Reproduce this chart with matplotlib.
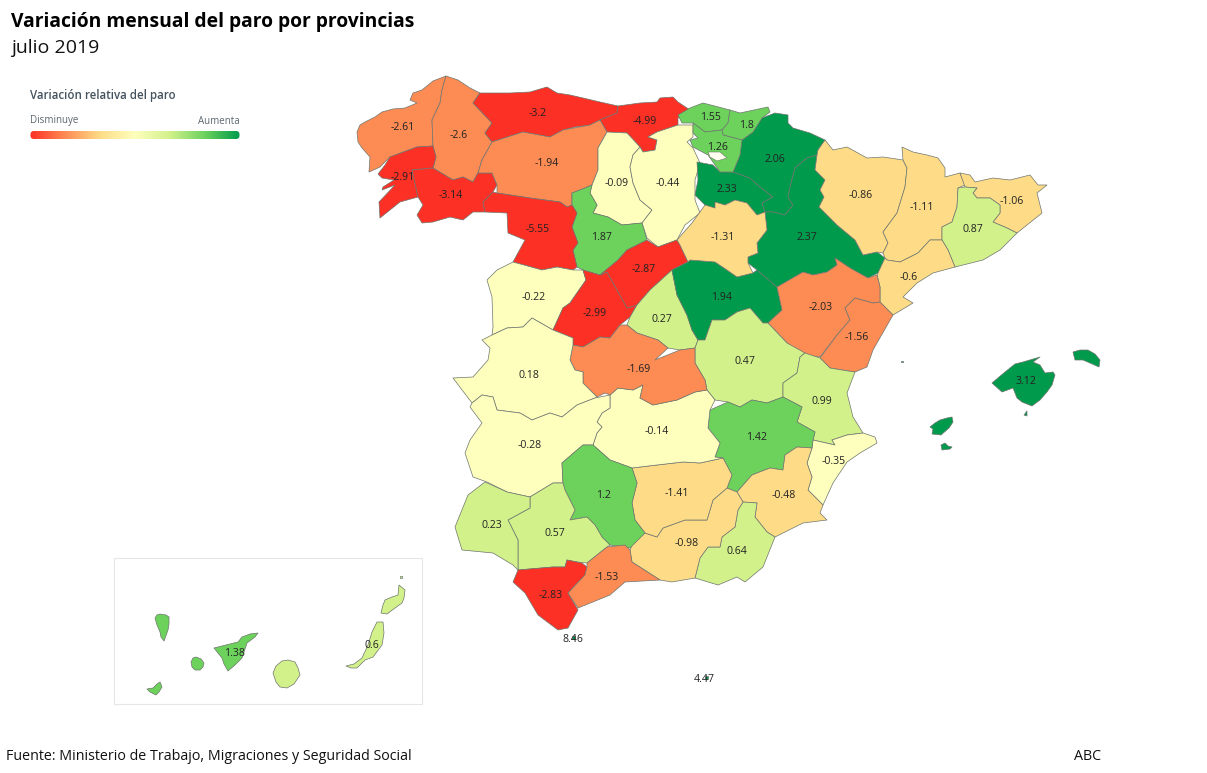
# Variacion mensual del paro por provincias, julio 2019

import numpy as np
import matplotlib
matplotlib.use("Agg")
import matplotlib.pyplot as plt
from matplotlib.collections import PolyCollection
from matplotlib.colors import BoundaryNorm, LinearSegmentedColormap, ListedColormap
from matplotlib.patches import FancyBboxPatch, Rectangle

plt.rcParams['font.family'] = ['Open Sans', 'DejaVu Sans']

provinces = ['A Coruña', 'Lugo', 'Pontevedra', 'Ourense', 'Asturias', 'Cantabria', 'León',
             'Palencia', 'Burgos', 'Valladolid', 'Zamora', 'Salamanca', 'Ávila', 'Segovia',
             'Madrid', 'Guadalajara', 'La Rioja', 'Navarra', 'Zaragoza', 'Soria', 'Bizkaia',
             'Gipuzkoa', 'Álava', 'Huesca', 'Lleida', 'Girona', 'Barcelona', 'Tarragona',
             'Teruel', 'Castellón', 'Cuenca', 'Valencia', 'Alicante', 'Albacete', 'Murcia',
             'Almería', 'Granada', 'Jaén', 'Ciudad Real', 'Toledo', 'Cáceres', 'Badajoz',
             'Córdoba', 'Sevilla', 'Huelva', 'Cádiz', 'Málaga', 'Baleares', 'Tenerife',
             'Las Palmas', 'Ceuta', 'Melilla']

values = [-2.61, -2.6, -2.91, -3.14, -3.2, -4.99, -1.94,
          -0.09, -0.44, 1.87, -5.55, -0.22, -2.99, -2.87,
          0.27, 1.94, 2.33, 2.06, 2.37, -1.31, 1.55,
          1.8, 1.26, -0.86, -1.11, -1.06, 0.87, -0.6,
          -2.03, -1.56, 0.47, 0.99, -0.35, 1.42, -0.48,
          0.64, -0.98, -1.41, -0.14, -1.69, 0.18, -0.28,
          1.2, 0.57, 0.23, -2.83, -1.53, 3.12, 1.38,
          0.6, 8.46, 4.47]

label_xy = [(403, 126), (459, 134), (403, 177), (451, 195), (538, 113), (645, 120), (547, 163),
            (617, 182), (668, 182), (601, 236), (538, 229), (534, 297), (595, 313), (644, 269),
            (662, 318), (722, 296), (727, 189), (775, 159), (807, 237), (723, 237), (710, 117),
            (746, 124), (717, 147), (861, 194), (922, 206), (1012, 200), (973, 229), (909, 276),
            (821, 307), (857, 337), (745, 361), (822, 400), (834, 461), (757, 437), (784, 494),
            (737, 550), (687, 542), (677, 493), (657, 430), (639, 368), (529, 374), (530, 445),
            (603, 495), (555, 533), (492, 524), (551, 594), (607, 576), (1026, 381), (234, 652),
            (372, 645), (573, 639), (704, 678)]

outlines = {
    'A Coruña': [[(357, 132), (360, 125), (365, 122), (375, 117), (382, 112), (393, 109), (405, 108), (417, 103),
                  (410, 100), (413, 93), (422, 90), (433, 81), (446, 76),
                  (442, 90), (440, 103), (432, 120), (433, 146), (417, 147), (390, 157), (380, 167), (369, 172),
                  (370, 157), (362, 148), (358, 142)]],
    'Lugo': [[(446, 76), (458, 80), (470, 88), (480, 93), (473, 103), (492, 123), (485, 133), (492, 142), (482, 160),
              (478, 173), (473, 182), (463, 177), (453, 180), (433, 168), (436, 157), (433, 146), (432, 120),
              (440, 103), (442, 90)]],
    'Pontevedra': [[(433, 146), (436, 157), (433, 168), (412, 170), (418, 197), (400, 202), (380, 218), (379, 202),
                    (395, 185), (382, 190), (383, 187), (394, 180), (382, 178), (378, 174), (385, 165), (390, 157),
                    (417, 147)]],
    'Ourense': [[(412, 170), (433, 168), (453, 180), (463, 177), (473, 182), (478, 173), (492, 173), (497, 185),
                 (493, 192), (483, 202), (485, 212), (473, 212), (463, 220), (450, 217), (433, 222), (422, 223),
                 (417, 215), (423, 205), (418, 197)]],
    'Asturias': [[(480, 93), (510, 93), (530, 92), (547, 87), (557, 93), (570, 95), (583, 98), (600, 102), (618, 106),
                  (617, 113), (600, 120), (590, 125), (575, 127), (563, 130), (550, 137), (523, 132), (492, 142),
                  (485, 133), (492, 123), (473, 103)]],
    'Cantabria': [[(618, 106), (640, 103), (657, 102), (660, 98), (673, 97), (678, 102), (693, 112), (678, 118),
                   (678, 125), (657, 132), (648, 137), (657, 140), (655, 150), (643, 152), (640, 147), (627, 133),
                   (607, 132), (600, 120), (617, 113)]],
    'León': [[(492, 142), (482, 160), (478, 173), (492, 173), (497, 185), (497, 193), (530, 198), (560, 202),
              (567, 207), (572, 205), (572, 193), (585, 188), (592, 185), (598, 170), (598, 148), (607, 132),
              (600, 120), (590, 125), (563, 130), (550, 137), (523, 132)]],
    'Palencia': [[(607, 132), (627, 133), (640, 147), (633, 155), (630, 167), (633, 183), (640, 200), (652, 210),
                  (642, 223), (622, 225), (608, 217), (593, 213), (597, 205), (590, 193), (592, 185), (598, 170),
                  (598, 148)]],
    'Burgos': [[(640, 147), (643, 152), (655, 150), (657, 140), (648, 137), (657, 132), (678, 125), (693, 125),
                (693, 137), (687, 142), (693, 148), (700, 163), (695, 180), (695, 200), (700, 213), (685, 225),
                (677, 240), (658, 247), (647, 238), (642, 223), (652, 210), (640, 200), (633, 183), (630, 167),
                (633, 155)]],
    'Valladolid': [[(572, 193), (585, 188), (592, 185), (590, 193), (597, 205), (593, 213), (608, 217), (622, 225),
                    (642, 223), (647, 240), (627, 250), (618, 260), (600, 275), (583, 270), (577, 267), (573, 250),
                    (578, 243), (572, 227), (577, 213), (572, 205)]],
    'Zamora': [[(497, 193), (530, 198), (560, 202), (567, 207), (572, 205), (577, 213), (572, 227), (578, 243),
                (573, 250), (577, 267), (573, 270), (557, 267), (542, 270), (513, 262), (525, 240), (508, 233),
                (507, 213), (485, 212), (483, 202), (493, 192)]],
    'Salamanca': [[(513, 262), (542, 270), (557, 267), (573, 270), (583, 270), (586, 280), (570, 303), (563, 308),
                   (553, 330), (532, 318), (523, 327), (507, 328), (492, 335), (493, 327), (492, 297), (487, 280),
                   (497, 270)]],
    'Ávila': [[(583, 270), (600, 275), (607, 272), (627, 308), (637, 305), (630, 317), (620, 325), (610, 338),
               (600, 337), (583, 347), (573, 345), (573, 338), (553, 330), (563, 308), (570, 303), (586, 280)]],
    'Segovia': [[(600, 275), (618, 260), (627, 250), (647, 240), (658, 247), (677, 240), (680, 245), (688, 262),
                 (672, 270), (650, 290), (637, 305), (627, 308), (607, 272)]],
    'Madrid': [[(637, 305), (650, 290), (672, 270), (677, 295), (687, 315), (692, 330), (698, 340), (695, 348),
                (680, 350), (668, 348), (658, 340), (637, 333), (627, 325), (630, 317)]],
    'Guadalajara': [[(672, 270), (688, 262), (690, 260), (715, 262), (727, 270), (737, 277), (753, 273), (757, 270),
                     (777, 287), (782, 310), (768, 323), (763, 323), (750, 308), (737, 312), (725, 320), (712, 320),
                     (705, 340), (698, 340), (692, 330), (687, 315), (677, 295)]],
    'La Rioja': [[(697, 162), (713, 165), (720, 172), (733, 172), (750, 178), (760, 187), (773, 197), (762, 203),
                  (765, 212), (757, 215), (747, 203), (735, 200), (725, 205), (715, 202), (715, 208), (705, 205),
                  (695, 195), (698, 180)]],
    'Navarra': [[(733, 172), (738, 160), (740, 155), (742, 140), (753, 132), (762, 118), (775, 113), (788, 115),
                 (788, 123), (793, 128), (810, 133), (825, 140), (818, 150), (817, 155), (807, 158), (795, 168),
                 (790, 187), (788, 197), (793, 205), (785, 215), (773, 212), (765, 212), (762, 203), (773, 197),
                 (760, 187), (750, 178)]],
    'Zaragoza': [[(817, 155), (815, 170), (825, 180), (820, 190), (824, 197), (819, 207), (837, 225), (855, 240),
                  (863, 255), (877, 252), (885, 258), (878, 273), (868, 278), (850, 268), (835, 258), (837, 265),
                  (827, 272), (813, 275), (803, 272), (777, 287), (757, 270), (748, 263), (748, 257), (758, 253),
                  (757, 243), (767, 230), (765, 212), (773, 212), (785, 215), (793, 205), (788, 197), (790, 187),
                  (795, 168), (807, 158)]],
    'Soria': [[(677, 240), (692, 223), (705, 205), (715, 208), (715, 202), (725, 205), (735, 200), (747, 203),
               (757, 215), (765, 212), (767, 230), (757, 243), (758, 253), (748, 257), (748, 263), (753, 273),
               (737, 277), (727, 270), (715, 262), (690, 260), (688, 262), (680, 245)]],
    'Bizkaia': [[(690, 108), (703, 103), (730, 110), (728, 123), (722, 130), (705, 132), (693, 123), (682, 123),
                 (678, 115)]],
    'Gipuzkoa': [[(730, 110), (740, 113), (768, 107), (770, 112), (762, 118), (753, 132), (742, 140), (723, 135),
                  (722, 130), (728, 123)]],
    'Álava': [[(693, 123), (705, 132), (722, 130), (723, 135), (742, 140), (740, 155), (738, 160), (733, 172),
               (720, 172), (713, 162), (708, 155), (693, 147), (690, 140), (698, 138), (693, 133)]],
    'Huesca': [[(825, 140), (833, 150), (847, 147), (867, 158), (883, 157), (903, 160), (907, 168), (905, 187),
                (897, 213), (883, 232), (888, 243), (883, 253), (877, 252), (863, 255), (855, 240), (837, 225),
                (819, 207), (824, 197), (820, 190), (825, 180), (815, 170), (817, 155), (818, 150)]],
    'Lleida': [[(903, 160), (902, 147), (913, 152), (927, 155), (938, 158), (945, 168), (945, 177), (960, 173),
                (965, 185), (958, 188), (957, 207), (952, 222), (942, 227), (942, 240), (930, 240), (918, 253),
                (900, 262), (887, 260), (885, 258), (883, 253), (888, 243), (883, 232), (897, 213), (905, 187),
                (907, 168)]],
    'Girona': [[(960, 173), (970, 175), (975, 182), (993, 178), (1010, 180), (1030, 175), (1038, 185), (1047, 185),
                (1037, 193), (1042, 213), (1017, 233), (1007, 228), (993, 222), (1000, 213), (1000, 205), (990, 198),
                (977, 198), (973, 193), (977, 188), (965, 187)]],
    'Barcelona': [[(965, 187), (977, 188), (973, 193), (977, 198), (990, 198), (1000, 205), (1000, 213), (993, 222),
                   (1007, 228), (1017, 233), (1000, 250), (983, 260), (955, 267), (948, 250), (942, 240), (942, 227),
                   (952, 222), (957, 207), (958, 188)]],
    'Tarragona': [[(887, 260), (900, 262), (918, 253), (930, 240), (942, 240), (948, 250), (955, 267), (933, 273),
                   (917, 283), (903, 297), (913, 303), (893, 315), (880, 302), (880, 287), (877, 275), (878, 273),
                   (885, 258)]],
    'Teruel': [[(777, 287), (803, 272), (813, 275), (827, 272), (837, 265), (835, 258), (850, 268), (868, 278),
                (877, 275), (880, 287), (880, 302), (873, 303), (855, 298), (845, 308), (850, 320), (837, 335),
                (820, 357), (803, 355), (787, 343), (768, 323), (782, 310)]],
    'Castellón': [[(855, 298), (873, 303), (880, 302), (893, 315), (873, 350), (867, 367), (855, 372), (842, 370),
                   (830, 368), (820, 358), (837, 335), (850, 320), (845, 308)]],
    'Cuenca': [[(725, 320), (737, 312), (750, 308), (763, 323), (768, 323), (787, 343), (805, 353), (800, 357),
                (797, 373), (783, 383), (783, 397), (767, 403), (752, 400), (740, 407), (728, 402), (715, 400),
                (707, 390), (705, 380), (695, 363), (695, 348), (698, 340), (705, 340), (712, 320)]],
    'Valencia': [[(800, 357), (805, 353), (820, 358), (830, 368), (842, 370), (855, 372), (847, 393), (853, 417),
                  (863, 433), (847, 435), (832, 440), (835, 445), (813, 440), (815, 432), (797, 422), (802, 407),
                  (783, 397), (783, 383), (797, 373)]],
    'Alicante': [[(813, 440), (835, 445), (832, 440), (847, 435), (863, 433), (875, 437), (877, 443), (860, 453),
                  (847, 462), (833, 483), (823, 505), (808, 490), (812, 477), (807, 463), (812, 448)]],
    'Albacete': [[(710, 410), (728, 402), (740, 407), (752, 400), (767, 403), (783, 397), (802, 407), (797, 422),
                  (815, 432), (813, 440), (812, 448), (797, 447), (785, 455), (783, 470), (770, 468), (752, 475),
                  (737, 492), (727, 488), (732, 475), (723, 458), (715, 457), (720, 443), (708, 428)]],
    'Murcia': [[(737, 492), (752, 475), (770, 468), (783, 470), (785, 455), (797, 447), (812, 448), (807, 463),
                (812, 477), (808, 490), (823, 505), (820, 513), (827, 520), (803, 523), (775, 537), (767, 532),
                (755, 517), (757, 503), (743, 502)]],
    'Almería': [[(743, 502), (757, 503), (755, 517), (767, 532), (775, 537), (763, 567), (745, 582), (737, 577),
                 (718, 585), (695, 578), (700, 558), (708, 547), (720, 547), (722, 537), (735, 527), (738, 510)]],
    'Granada': [[(727, 488), (737, 492), (743, 502), (738, 510), (735, 527), (722, 537), (720, 547), (708, 547),
                 (700, 558), (695, 578), (672, 582), (660, 580), (632, 562), (630, 550), (635, 538), (645, 533),
                 (657, 537), (663, 528), (685, 520), (707, 520), (713, 500)]],
    'Jaén': [[(632, 468), (657, 465), (683, 462), (700, 463), (723, 458), (732, 475), (727, 488), (713, 500),
              (707, 520), (685, 520), (663, 528), (657, 537), (645, 533), (635, 520), (632, 503), (637, 483)]],
    'Ciudad Real': [[(610, 395), (618, 388), (633, 390), (643, 385), (640, 398), (653, 405), (677, 400), (695, 392),
                     (707, 390), (715, 400), (710, 410), (708, 428), (720, 443), (715, 457), (723, 458), (700, 463),
                     (683, 462), (657, 465), (632, 468), (610, 460), (593, 445), (597, 433), (602, 427), (597, 422),
                     (602, 413), (610, 408)]],
    'Toledo': [[(573, 345), (583, 347), (600, 337), (610, 338), (620, 325), (627, 325), (637, 333), (658, 340),
                (668, 348), (655, 360), (660, 358), (680, 350), (695, 348), (695, 363), (705, 380), (707, 390),
                (695, 392), (677, 400), (653, 405), (640, 398), (643, 385), (633, 390), (618, 388), (610, 395),
                (605, 393), (597, 397), (583, 383), (583, 372), (575, 370), (570, 360)]],
    'Cáceres': [[(482, 340), (492, 335), (507, 328), (523, 327), (532, 318), (553, 330), (573, 338), (573, 345),
                 (570, 360), (575, 370), (583, 372), (583, 383), (597, 397), (595, 398), (577, 405), (562, 417),
                 (550, 413), (532, 420), (520, 413), (497, 410), (493, 397), (482, 395), (472, 403), (453, 378),
                 (473, 377), (488, 360), (490, 348)]],
    'Badajoz': [[(472, 403), (482, 395), (493, 397), (497, 410), (520, 413), (532, 420), (550, 413), (562, 417),
                 (577, 405), (595, 398), (610, 395), (610, 408), (602, 413), (597, 422), (602, 427), (597, 433),
                 (593, 445), (583, 445), (562, 463), (563, 483), (553, 483), (530, 497), (507, 492), (487, 482),
                 (473, 477), (465, 453), (470, 440), (482, 423), (470, 407)]],
    'Córdoba': [[(593, 445), (610, 460), (632, 468), (637, 483), (632, 503), (635, 520), (645, 533), (630, 548),
                 (610, 545), (602, 537), (595, 525), (587, 517), (570, 520), (575, 510), (565, 490), (563, 483),
                 (562, 463), (583, 445)]],
    'Sevilla': [[(530, 497), (553, 483), (563, 483), (565, 490), (575, 510), (570, 520), (587, 517), (595, 525),
                 (602, 537), (610, 545), (607, 547), (587, 563), (577, 562), (567, 560), (565, 567), (553, 567),
                 (518, 570), (518, 540), (508, 520), (530, 508)]],
    'Huelva': [[(485, 482), (507, 492), (530, 497), (530, 508), (508, 520), (518, 540), (518, 570), (513, 565),
                (493, 553), (462, 550), (455, 527), (468, 495)]],
    'Cádiz': [[(518, 570), (553, 567), (565, 567), (567, 560), (577, 562), (582, 563), (587, 567), (585, 575),
               (568, 593), (578, 610), (568, 628), (558, 630), (538, 615), (525, 593), (513, 582)]],
    'Málaga': [[(607, 547), (625, 545), (630, 550), (632, 562), (660, 580), (625, 582), (610, 595), (578, 608),
                (568, 593), (585, 575), (587, 567), (587, 563)]],
    'Baleares': [[(992, 383), (1005, 372), (1015, 364), (1023, 362), (1040, 357), (1033, 362), (1040, 365), (1045, 373),
                  (1053, 372), (1055, 375), (1052, 385), (1047, 392), (1040, 400), (1032, 406), (1022, 402), (1017, 398),
                  (1013, 388), (1002, 392)],
                 [(1024, 415), (1027, 411), (1027, 416)],
                 [(1073, 352), (1080, 350), (1088, 350), (1095, 354), (1100, 360), (1099, 367), (1090, 363), (1083, 360),
                  (1075, 360)],
                 [(930, 427), (935, 423), (940, 420), (947, 418), (952, 417), (953, 422), (949, 428), (941, 435),
                  (932, 434), (933, 429)],
                 [(941, 445), (945, 443), (948, 446), (952, 447), (950, 449), (942, 450)],
                 [(901, 361), (903, 361), (903, 362), (901, 362)]],
    'Tenerife': [[(214, 648), (230, 644), (238, 642), (242, 637), (250, 634), (258, 633), (255, 637), (247, 643), (242, 658),
                  (235, 665), (228, 671), (224, 664), (222, 658)],
                 [(155, 618), (157, 615), (160, 614), (166, 615), (169, 617), (169, 624), (168, 630), (164, 641), (161, 637),
                  (160, 632), (157, 625)],
                 [(191, 662), (193, 658), (196, 657), (201, 659), (204, 663), (203, 667), (200, 670), (195, 670),
                  (192, 667)],
                 [(147, 689), (153, 688), (157, 684), (160, 682), (162, 687), (159, 692), (156, 695), (150, 692)]],
    'Las Palmas': [[(273, 673), (276, 666), (282, 661), (288, 660), (295, 662), (298, 668), (300, 675), (294, 684), (287, 688),
                    (280, 687), (276, 682)],
                   [(346, 666), (354, 664), (362, 658), (368, 645), (372, 632), (377, 622), (383, 622), (384, 633),
                    (382, 645), (373, 657), (365, 660), (357, 668), (351, 668)],
                   [(381, 613), (383, 605), (385, 600), (392, 597), (398, 595), (399, 585), (405, 590), (404, 598),
                    (402, 603), (395, 608), (387, 614)],
                   [(400, 576), (402, 576), (402, 578), (400, 578)]],
    'Ceuta': [[(572, 636), (575, 636), (575, 639), (572, 639)]],
    'Melilla': [[(705, 676), (708, 676), (708, 679), (705, 679)]],
}

# treviño, the enclave inside Álava
trevino = [(708, 152), (720, 152), (727, 158), (717, 161), (710, 157)]

# seven classes, as in the map
class_edges = [-6, -2.7, -1.5, -0.46, 0.2, 1.1, 1.9, 9]
class_colors = ['#fd3025', '#fd8b54', '#fedc87', '#feffbd', '#d2f18b', '#6cd25c', '#009a4c']

title = 'Variación mensual del paro por provincias'
subtitle = 'julio 2019'
legend_title = 'Variación relativa del paro'
source = 'Fuente: Ministerio de Trabajo, Migraciones y Seguridad Social'


fig = plt.figure(figsize=(12.07, 7.73), dpi=100)
ax = fig.add_axes([0, 0, 1, 1])
ax.axis('off')

# canarias box
ax.add_patch(Rectangle((114, 558), 308, 146, fc='white', ec='#e6e6e6', lw=0.8))

cmap = ListedColormap(class_colors)
norm = BoundaryNorm(class_edges, cmap.N)

rings = []
ring_values = []
for name, val in zip(provinces, values):
    for ring in outlines[name]:
        rings.append(ring)
        ring_values.append(val)

polys = PolyCollection(rings, array=np.array(ring_values), cmap=cmap, norm=norm,
                       edgecolors='#6e756e', linewidths=0.5, joinstyle='round')
ax.add_collection(polys)
ax.fill(*zip(*trevino), fc='#fffff0', ec='#6e756e', lw=0.4)

for (x, y), val in zip(label_xy, values):
    ax.text(x, y + 1, f'{val:g}', ha='center', va='center', fontsize=7.6, color='#222222')

# title block
ax.text(11, 22, title, fontsize=13.9, fontweight='bold', color='black', va='center')
ax.text(11, 48, subtitle, fontsize=14, color='#111111', va='center')

# colour legend
ax.text(30, 95, legend_title, fontsize=8.3, fontweight='semibold', color='#44525e', va='center')
ax.text(30, 121, 'Disminuye', fontsize=7, color='#5c6670', va='center')
ax.text(240, 121, 'Aumenta', fontsize=7, color='#5c6670', va='center', ha='right')
grad = np.linspace(0, 1, 256).reshape(1, -1)
gcmap = LinearSegmentedColormap.from_list('legend', class_colors)
im = ax.imshow(grad, cmap=gcmap, extent=(30, 240, 139, 131), aspect='auto', zorder=3)
im.set_clip_path(FancyBboxPatch((33.5, 134), 203, 2, boxstyle='round,pad=3,rounding_size=3.5',
                                transform=ax.transData))

# footer
ax.text(6, 757, source, fontsize=10.3, color='#111111', va='center')
ax.text(1074, 757, 'ABC', fontsize=10.3, color='#111111', va='center')

ax.set_xlim(0, 1207)
ax.set_ylim(773, 0)

plt.savefig('out.png', dpi=100)
